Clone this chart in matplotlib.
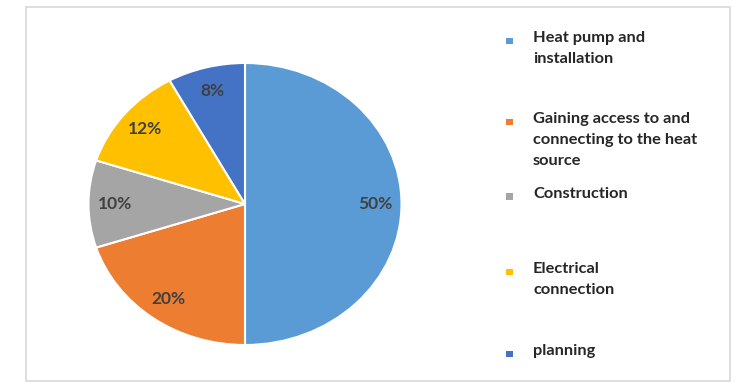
import matplotlib.pyplot as plt
from matplotlib.patches import Rectangle

labels = ["Heat pump and\ninstallation",
          "Gaining access to and\nconnecting to the heat\nsource",
          "Construction",
          "Electrical\nconnection",
          "planning"]
shares = [50, 20, 10, 12, 8]
colors = ["#5B9BD5", "#ED7D31", "#A5A5A5", "#FFC000", "#4472C4"]

W, H = 738, 385
fig = plt.figure(figsize=(W / 100, H / 100), dpi=100)

# chart frame
fig.add_artist(Rectangle((26 / W, 1 - 381 / H), 704 / W, 374 / H,
                         transform=fig.transFigure, fill=False,
                         edgecolor="#D9D9D9", lw=1.2))

# pie is slightly squashed in the original, so axes aspect is left free
ax = fig.add_axes([88.5 / W, 1 - 345 / H, 313 / W, 282 / H])
wedges, texts, autotexts = ax.pie(
    shares, colors=colors, startangle=90, counterclock=False,
    autopct=lambda p: f"{p:.0f}%", pctdistance=0.83,
    wedgeprops=dict(edgecolor="white", linewidth=1.5),
    textprops=dict(color="#404040", fontsize=12.5, family="Lato", weight="bold"))
ax.set_aspect("auto")
ax.set_xlim(-1, 1)
ax.set_ylim(-1, 1)

# legend drawn by hand to keep the uneven spacing of the original
leg_y = [31, 112, 187, 262, 344]
for lab, col, y in zip(labels, colors, leg_y):
    fig.add_artist(Rectangle((506 / W, 1 - (y + 13) / H), 6.5 / W, 6.5 / H,
                             transform=fig.transFigure, color=col, lw=0))
    fig.text(533 / W, 1 - y / H, lab, ha="left", va="top", fontsize=11.8,
             family="Lato", weight="bold", color="#262626", linespacing=1.62)

plt.savefig("out.png", dpi=100)
